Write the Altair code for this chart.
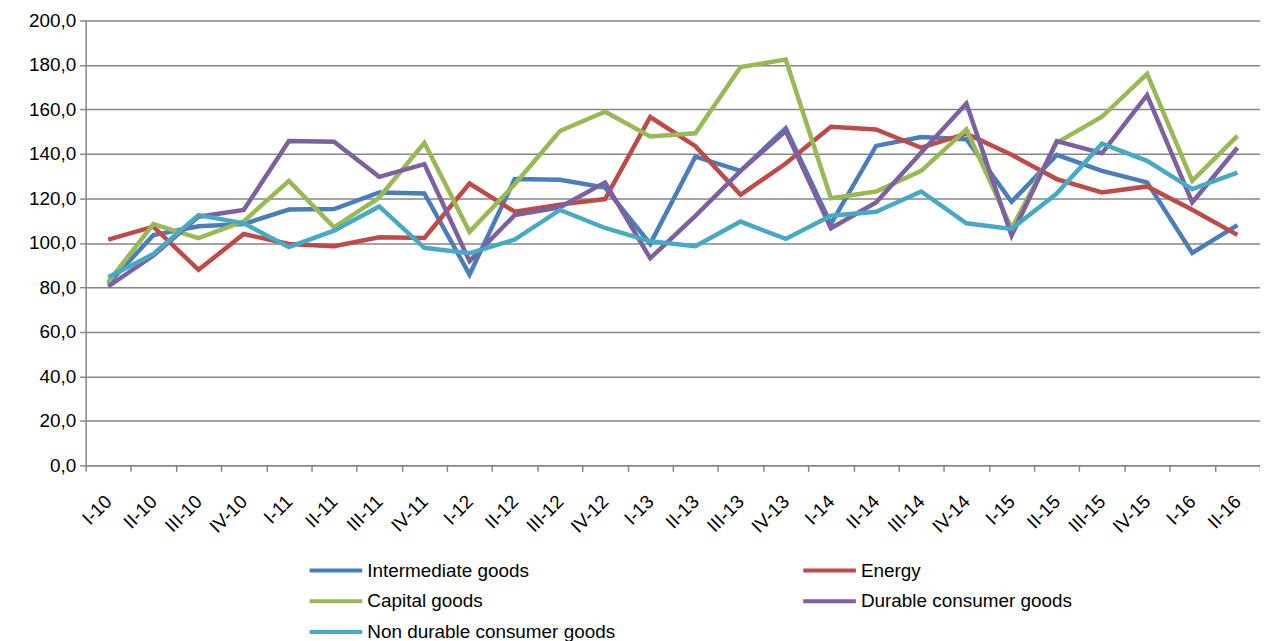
import altair as alt
import pandas as pd

quarters = ["I-10", "II-10", "III-10", "IV-10", "I-11", "II-11", "III-11", "IV-11",
            "I-12", "II-12", "III-12", "IV-12", "I-13", "II-13", "III-13", "IV-13",
            "I-14", "II-14", "III-14", "IV-14", "I-15", "II-15", "III-15", "IV-15",
            "I-16", "II-16"]

intermediate = [81.6, 103.5, 107.5, 108.5, 115.0, 115.2, 122.7, 122.2,
                85.8, 128.7, 128.4, 124.9, 99.6, 138.8, 132.4, 151.5,
                108.5, 143.6, 147.6, 146.6, 118.5, 139.6, 132.4, 127.2,
                95.5, 108.0]
energy = [101.5, 107.3, 87.9, 104.0, 99.5, 98.5, 102.5, 102.2,
          126.7, 114.0, 117.2, 119.7, 156.6, 143.5, 121.6, 135.7,
          152.2, 151.0, 142.8, 149.1, 139.6, 128.7, 122.7, 125.4,
          114.9, 103.6]
capital = [82.4, 108.5, 102.2, 109.7, 127.9, 107.0, 120.4, 145.0,
           105.0, 126.4, 150.3, 159.0, 147.8, 149.3, 179.1, 182.4,
           120.1, 123.1, 132.4, 151.0, 106.5, 145.0, 156.7, 176.0,
           127.9, 148.1]
durable = [80.4, 94.3, 111.8, 114.8, 145.8, 145.5, 129.7, 135.4,
           91.8, 112.5, 116.0, 127.2, 93.1, 112.2, 132.4, 150.3,
           106.6, 118.2, 140.6, 162.7, 103.3, 145.8, 140.3, 166.4,
           118.2, 142.8]
non_durable = [84.6, 95.0, 112.5, 108.8, 98.1, 105.5, 116.4, 97.8,
               95.4, 101.5, 114.8, 106.7, 100.7, 98.5, 109.6, 101.8,
               112.2, 114.0, 123.1, 108.8, 106.3, 122.2, 144.6, 136.9,
               124.2, 131.6]

series_names = ["Intermediate goods", "Energy", "Capital goods",
                "Durable consumer goods", "Non durable consumer goods"]
series_values = [intermediate, energy, capital, durable, non_durable]
colors = ["#4a7ebb", "#be4b48", "#98b954", "#7d60a0", "#46aac5"]

rows = []
for si, (name, vals) in enumerate(zip(series_names, series_values)):
    for qi, (q, v) in enumerate(zip(quarters, vals)):
        rows.append({"quarter": q, "value": v, "series": name, "order": si, "qi": qi})
df = pd.DataFrame(rows)

chart = alt.Chart(df).mark_line(strokeWidth=4.5, strokeJoin="miter").encode(
    x=alt.X("quarter:N", sort=quarters,
            scale=alt.Scale(type="band", paddingInner=0, paddingOuter=0),
            axis=alt.Axis(title=None, labelAngle=315, labelAlign="right", labelBaseline="middle",
                          labelPadding=27, tickBand="extent", tickSize=6, tickColor="#868686",
                          tickWidth=1.5, domainColor="#868686", domainWidth=1.5,
                          labelFont="Liberation Sans", labelFontSize=19, labelColor="#000000",
                          grid=False)),
    y=alt.Y("value:Q", scale=alt.Scale(domain=[0, 200], nice=False),
            axis=alt.Axis(title=None, values=list(range(0, 201, 20)),
                          labelExpr="replace(format(datum.value, '.1f'), '.', ',')",
                          labelFont="Liberation Sans", labelFontSize=19, labelColor="#000000",
                          labelPadding=4, tickSize=6, tickColor="#868686", tickWidth=1.5,
                          domainColor="#868686", domainWidth=1.5,
                          gridColor="#868686", gridWidth=1.5)),
    color=alt.Color("series:N", sort=series_names,
                    scale=alt.Scale(domain=series_names, range=colors),
                    legend=alt.Legend(title=None, orient="none", legendX=242, legendY=543,
                                      direction="horizontal",
                                      columns=2, columnPadding=180, rowPadding=11,
                                      symbolType="M-5,0H5", symbolSize=112, symbolStrokeWidth=4,
                                      labelOffset=22, labelFont="Liberation Sans",
                                      labelFontSize=19, labelColor="#000000", labelLimit=400)),
    order=alt.Order("order:Q"),
    detail="series:N",
).properties(
    width=1180, height=447,
    padding={"left": 78, "top": 11, "right": 0, "bottom": 182},
    autosize=alt.AutoSizeParams(type="none"),
).configure_view(stroke=None)

chart.save("out.html", embed_options={"renderer": "svg", "actions": False})
